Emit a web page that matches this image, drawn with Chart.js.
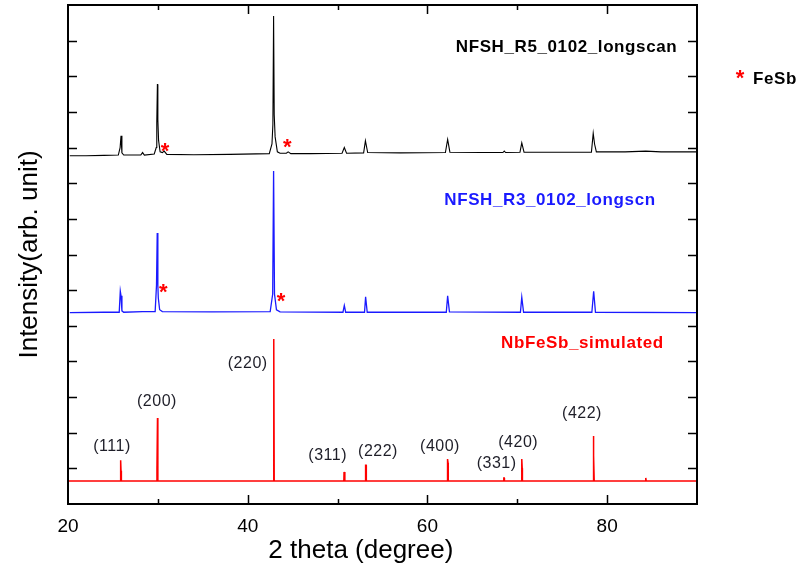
<!DOCTYPE html>
<html>
<head>
<meta charset="utf-8">
<script src="https://cdn.jsdelivr.net/npm/chart.js@4.4.0/dist/chart.umd.min.js"></script>
<style>
  html, body { margin: 0; padding: 0; background: #fff; }
  #wrap { width: 799px; height: 571px; }
</style>
</head>
<body>
<div id="wrap"><canvas id="xrd"></canvas></div>
<script>
// ---- data (2 theta, stacked intensity in arb. units) ----
const r5X = [20.2, 22.0, 24.0, 25.6, 25.8, 25.9, 26.0, 26.2, 28.1, 28.3, 28.5, 29.6, 29.82, 29.88, 29.95, 30.0, 30.08, 30.25, 30.5, 30.7, 31.0,
             34.0, 38.0, 42.4, 42.7, 42.8, 42.88, 42.95, 43.05, 43.3, 43.6, 44.3, 44.5, 44.8, 47.0, 50.5, 50.75, 51.0, 52.9, 53.1, 53.35,
             57.0, 62.0, 62.25, 62.5, 66.0, 68.4, 68.55, 68.7, 70.3, 70.5, 70.75, 74.0, 78.25, 78.45, 78.6, 78.8, 82.0, 84.3, 86.0, 89.9];
const r5Y = [9.77, 9.77, 9.78, 9.79, 10.0, 10.33, 9.85, 9.79, 9.79, 9.86, 9.79, 9.82, 10.0, 10.69, 11.78, 10.78, 10.2, 9.88, 9.86, 9.9, 9.81,
             9.8, 9.81, 9.83, 10.1, 10.64, 13.69, 10.92, 10.3, 9.88, 9.84, 9.84, 9.88, 9.83, 9.83, 9.84, 10.0, 9.84, 9.85, 10.19, 9.86,
             9.85, 9.86, 10.23, 9.87, 9.86, 9.86, 9.9, 9.86, 9.87, 10.13, 9.87, 9.87, 9.87, 10.4, 10.1, 9.88, 9.88, 9.9, 9.88, 9.88];

const r3X = [20.2, 24.0, 25.7, 25.82, 25.9, 26.0, 26.2, 28.3, 29.7, 29.85, 29.93, 30.0, 30.05, 30.2, 30.5, 36.0, 42.5, 42.78, 42.88, 42.98, 43.2, 43.6,
             50.6, 50.75, 50.9, 53.0, 53.12, 53.3, 62.1, 62.25, 62.45, 70.35, 70.5, 70.7, 78.3, 78.5, 78.7, 89.9];
const r3Y = [5.37, 5.38, 5.38, 5.97, 5.84, 5.42, 5.38, 5.4, 5.4, 6.14, 7.6, 6.14, 5.78, 5.45, 5.4, 5.39, 5.4, 5.89, 9.34, 5.89, 5.45, 5.39,
             5.38, 5.57, 5.38, 5.38, 5.81, 5.38, 5.38, 5.84, 5.39, 5.38, 5.8, 5.38, 5.38, 5.97, 5.38, 5.37];

const simX = [20.0, 25.84, 25.86, 25.9, 25.94, 29.88, 29.9, 29.96, 30.0, 42.86, 42.9, 42.95, 50.7, 50.72, 50.8, 50.82, 53.1, 53.12, 53.18, 53.2,
              62.22, 62.24, 62.3, 62.32, 68.48, 68.5, 68.55, 68.57, 70.48, 70.5, 70.55, 70.57, 78.44, 78.46, 78.52, 78.56, 84.28, 84.3, 84.35, 90.0];
const simY = [0.645, 0.645, 1.23, 0.93, 0.645, 0.645, 0.98, 2.41, 0.645, 0.645, 4.63, 0.645, 0.645, 0.9, 0.9, 0.645, 0.645, 1.09, 1.09, 0.645,
              0.645, 1.26, 1.15, 0.645, 0.645, 0.73, 0.73, 0.645, 0.645, 1.26, 1.0, 0.645, 0.645, 1.91, 1.37, 0.645, 0.645, 0.73, 0.645, 0.645];

// hkl labels of the simulated pattern
const hklText = ['(111)', '(200)', '(220)', '(311)', '(222)', '(400)', '(331)', '(420)', '(422)'];
const hklX = [24.9, 29.9, 40.0, 48.9, 54.5, 61.4, 67.7, 70.1, 77.2];
const hklY = [1.6, 2.86, 3.95, 1.37, 1.46, 1.6, 1.12, 1.71, 2.55];

// FeSb impurity marks
const starX = [30.8, 44.4, 30.6, 43.7];
const starY = [10.06, 10.17, 6.11, 5.85];

const xTicks = [20, 30, 40, 50, 60, 70, 80, 90];
const xLabels = [20, 40, 60, 80];

const pts = (xs, ys) => xs.map((x, i) => ({ x: x, y: ys[i] }));

const overlay = {
    id: 'overlay',
    afterDraw(chart) {
        const ctx = chart.ctx;
        const a = chart.chartArea;
        const xs = chart.scales.x, ys = chart.scales.y;
        ctx.save();

        // frame
        ctx.strokeStyle = '#000';
        ctx.lineWidth = 2;
        ctx.strokeRect(a.left, a.top, a.right - a.left, a.bottom - a.top);

        // inward ticks
        ctx.lineWidth = 1.5;
        ctx.beginPath();
        for (let v = 1; v < 14; v++) {
            const py = Math.round(ys.getPixelForValue(v)) + 0.5;
            ctx.moveTo(a.left, py); ctx.lineTo(a.left + 9, py);
            ctx.moveTo(a.right, py); ctx.lineTo(a.right - 9, py);
        }
        xTicks.forEach(v => {
            if (v === 20 || v === 90) return;
            const px = Math.round(xs.getPixelForValue(v)) + 0.5;
            const len = (v % 20 === 0) ? 9 : 5;
            ctx.moveTo(px, a.bottom); ctx.lineTo(px, a.bottom - len);
            ctx.moveTo(px, a.top); ctx.lineTo(px, a.top + len);
        });
        ctx.stroke();

        // hkl labels
        ctx.fillStyle = '#1e1e28';
        ctx.font = '16px "Liberation Sans", Arial, sans-serif';
        ctx.letterSpacing = '0.5px';
        ctx.textAlign = 'center';
        ctx.textBaseline = 'middle';
        hklText.forEach((t, i) => {
            ctx.fillText(t, xs.getPixelForValue(hklX[i]), ys.getPixelForValue(hklY[i]));
        });

        // sample names
        ctx.font = 'bold 17px "Liberation Sans", Arial, sans-serif';
        ctx.letterSpacing = '0.6px';
        ctx.textAlign = 'right';
        ctx.fillStyle = '#000';
        ctx.fillText('NFSH_R5_0102_longscan', xs.getPixelForValue(87.8), ys.getPixelForValue(12.82));
        ctx.fillStyle = '#1a1aff';
        ctx.fillText('NFSH_R3_0102_longscn', xs.getPixelForValue(85.4), ys.getPixelForValue(8.53));
        ctx.fillStyle = '#ff0000';
        ctx.fillText('NbFeSb_simulated', xs.getPixelForValue(86.3), ys.getPixelForValue(4.52));

        // FeSb stars
        ctx.letterSpacing = '0px';
        ctx.font = 'bold 22px "Liberation Sans", Arial, sans-serif';
        ctx.textAlign = 'center';
        ctx.textBaseline = 'alphabetic';
        ctx.fillStyle = '#ff0000';
        starX.forEach((sx, i) => {
            ctx.fillText('*', xs.getPixelForValue(sx), ys.getPixelForValue(starY[i]) + 0.57 * 22);
        });

        // legend outside the frame
        ctx.fillText('*', a.right + 43, 72 + 0.57 * 22);
        ctx.fillStyle = '#000';
        ctx.font = 'bold 17px "Liberation Sans", Arial, sans-serif';
        ctx.letterSpacing = '0.6px';
        ctx.textAlign = 'left';
        ctx.textBaseline = 'middle';
        ctx.fillText('FeSb', a.right + 56, 79);

        ctx.restore();
    }
};

new Chart(document.getElementById('xrd'), {
    type: 'line',
    data: {
        datasets: [
            { label: 'NFSH_R5_0102_longscan', data: pts(r5X, r5Y), borderColor: '#000000', borderWidth: 1.1 },
            { label: 'NFSH_R3_0102_longscn', data: pts(r3X, r3Y), borderColor: '#1a1aff', borderWidth: 1.3 },
            { label: 'NbFeSb_simulated', data: pts(simX, simY), borderColor: '#ff0000', borderWidth: 1.5 }
        ]
    },
    options: {
        responsive: true,
        maintainAspectRatio: false,
        animation: false,
        elements: { point: { radius: 0 }, line: { tension: 0 } },
        layout: { padding: { left: 5, right: 102, top: 5, bottom: 0 } },
        plugins: { legend: { display: false }, tooltip: { enabled: false } },
        scales: {
            x: {
                type: 'linear', min: 20, max: 90,
                grid: { display: false, drawTicks: false, tickLength: 0 },
                border: { display: false },
                afterBuildTicks: s => { s.ticks = xTicks.map(v => ({ value: v })); },
                ticks: {
                    color: '#000', padding: 13, maxRotation: 0, autoSkip: false,
                    font: { family: '"Liberation Sans", Arial, sans-serif', size: 19, lineHeight: 1.0 },
                    callback: v => xLabels.includes(v) ? String(v) : ''
                },
                title: {
                    display: true, text: '2 theta (degree)      ', color: '#000',
                    font: { family: '"Liberation Sans", Arial, sans-serif', size: 26, lineHeight: 1.0 },
                    padding: { top: -11, bottom: 7 }
                }
            },
            y: {
                min: 0, max: 14,
                grid: { display: false, drawTicks: false, tickLength: 0 },
                border: { display: false },
                ticks: { display: false, stepSize: 1 },
                title: {
                    display: true, text: 'Intensity(arb. unit)', color: '#000',
                    font: { family: '"Liberation Sans", Arial, sans-serif', size: 26, lineHeight: 1.0 },
                    padding: { top: 12, bottom: 25 }
                }
            }
        }
    },
    plugins: [overlay]
});
</script>
</body>
</html>
